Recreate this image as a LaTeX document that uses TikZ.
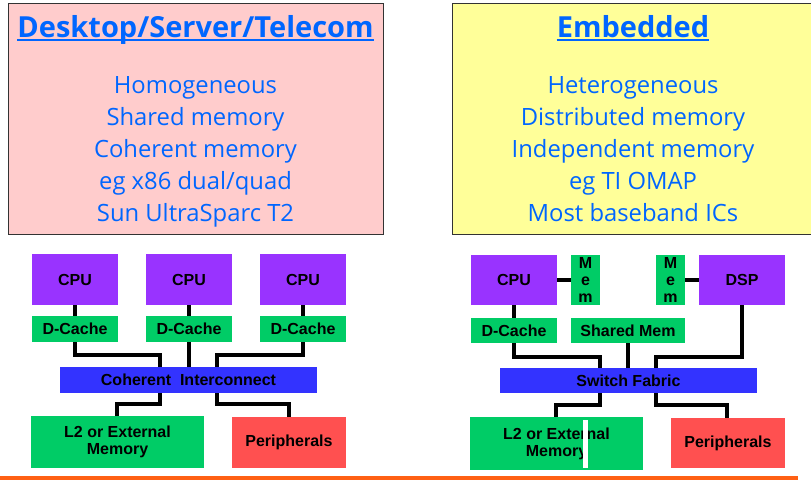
\documentclass[tikz,border=0pt]{standalone}
\usepackage{fontspec}
\setmainfont{Liberation Sans}
\newfontfamily\slidefont{Open Sans}
\usetikzlibrary{positioning}
\definecolor{pinkbg}{HTML}{FFCCCC}
\definecolor{yellowbg}{HTML}{FFFF99}
\definecolor{txtblue}{HTML}{0066FF}
\definecolor{cpupurple}{HTML}{9933FF}
\definecolor{memgreen}{HTML}{00CC66}
\definecolor{busblue}{HTML}{3333FF}
\definecolor{perired}{HTML}{FF5050}
\definecolor{rulered}{HTML}{FF6014}

\tikzset{
  blk/.style={inner sep=0pt, outer sep=0pt, align=center,
    font=\bfseries\fontsize{16}{17}\selectfont},
  cpu/.style={blk, fill=cpupurple, minimum width=86pt, minimum height=51pt},
  cache/.style={blk, fill=memgreen, minimum width=86pt, minimum height=26pt},
  bus/.style={blk, fill=busblue, minimum width=257pt, minimum height=26pt},
  extmem/.style={blk, fill=memgreen, minimum width=173pt, minimum height=52pt},
  peri/.style={blk, fill=perired, minimum width=114pt, minimum height=51pt},
  locmem/.style={blk, fill=memgreen, minimum width=29pt, minimum height=50pt},
  wire/.style={line width=3.5pt},
  title/.style={inner sep=0pt, font=\slidefont\bfseries\fontsize{29}{32}\selectfont, text=txtblue},
  uline/.style={txtblue, line width=2pt},
  body/.style={font=\slidefont\fontsize{23.8}{32}\selectfont, text=txtblue, align=center}
}

\begin{document}
\begin{tikzpicture}[x=1pt,y=-1pt]
  \useasboundingbox (0,0) rectangle (811,483);
  % panels
  \draw[black!80, fill=pinkbg] (8,3) rectangle (383,234);
  \draw[black!80, fill=yellowbg] (452,3) rectangle (813,234);
  \node[title, anchor=base] (ttl1) at (195.5,37) {Desktop/Server/Telecom};
  \draw[uline] ([yshift=-3pt]ttl1.base west) -- ([yshift=-3pt]ttl1.base east);
  \node[body] (txt1) at (195.5,152) {Homogeneous\\Shared memory\\Coherent memory\\eg x86 dual/quad\\Sun UltraSparc T2};
  \node[title, anchor=base] (ttl2) at (633,37) {Embedded};
  \draw[uline] ([yshift=-3pt]ttl2.base west) -- ([yshift=-3pt]ttl2.base east);
  \node[body] (txt2) at (633,149.5) {Heterogeneous\\Distributed memory\\Independent memory\\eg TI OMAP\\Most baseband ICs};

  % shared memory system
  \foreach \i/\x in {1/75,2/189,3/303}{
    \node[cpu] (cpu\i) at (\x,279.5) {CPU};
    \node[cache] (dc\i) at (\x,329) {D-Cache};
    \draw[wire] (cpu\i) -- (dc\i);
  }
  \node[bus] (ci) at (188.5,380) {Coherent~ Interconnect};
  \node[extmem] (l2) at (117.5,442) {L2 or External\\Memory};
  \node[peri] (per) at (289,442.5) {Peripherals};
  \coordinate (j1) at (160,355); \coordinate (j3) at (217,355);
  \coordinate (k1) at (117,404); \coordinate (k3) at (289,404);
  \draw[wire] (dc1.south) |- (j1) -- (j1 |- ci.north);
  \draw[wire] (dc2) -- (dc2 |- ci.north);
  \draw[wire] (dc3.south) |- (j3) -- (j3 |- ci.north);
  \draw[wire] (j1 |- ci.south) |- (k1) -- (k1 |- l2.north);
  \draw[wire] (j3 |- ci.south) |- (k3) -- (k3 |- per.north);

  % distributed memory system
  \node[cpu, minimum height=50pt] (cpuR) at (514,280) {CPU};
  \node[locmem] (mem1) at (585.5,280) {M\\e\\m};
  \node[locmem] (mem2) at (670.5,280) {M\\e\\m};
  \node[cpu, minimum height=50pt] (dsp) at (742,280) {DSP};
  \node[cache, minimum height=25pt] (dcR) at (514,330.5) {D-Cache};
  \node[cache, minimum width=114pt, minimum height=25pt] (shm) at (628,330.5) {Shared Mem};
  \node[bus, minimum height=25pt] (sf) at (628.5,380.5) {Switch Fabric};
  \node[extmem, minimum height=53pt] (l2R) at (556.5,443.5) {L2 or External\\Memory};
  \node[peri, minimum height=50pt] (perR) at (728,443) {Peripherals};
  \fill[white] (583,420) rectangle (588,468);
  \coordinate (j4) at (600,357); \coordinate (j6) at (656,357);
  \coordinate (k4) at (556,405); \coordinate (k6) at (727,405);
  \draw[wire] (cpuR) -- (mem1);
  \draw[wire] (mem2) -- (dsp);
  \draw[wire] (cpuR) -- (dcR);
  \draw[wire] (dcR.south) |- (j4) -- (j4 |- sf.north);
  \draw[wire] (shm) -- (shm |- sf.north);
  \draw[wire] (dsp.south) |- (j6) -- (j6 |- sf.north);
  \draw[wire] (j4 |- sf.south) |- (k4) -- (k4 |- l2R.north);
  \draw[wire] (j6 |- sf.south) |- (k6) -- (k6 |- perR.north);

  % footer rule
  \coordinate (r0) at (0,478); \coordinate (r1) at (798,478);
  \draw[rulered, line width=4pt] (r0) -- (r1);
\end{tikzpicture}
\end{document}
